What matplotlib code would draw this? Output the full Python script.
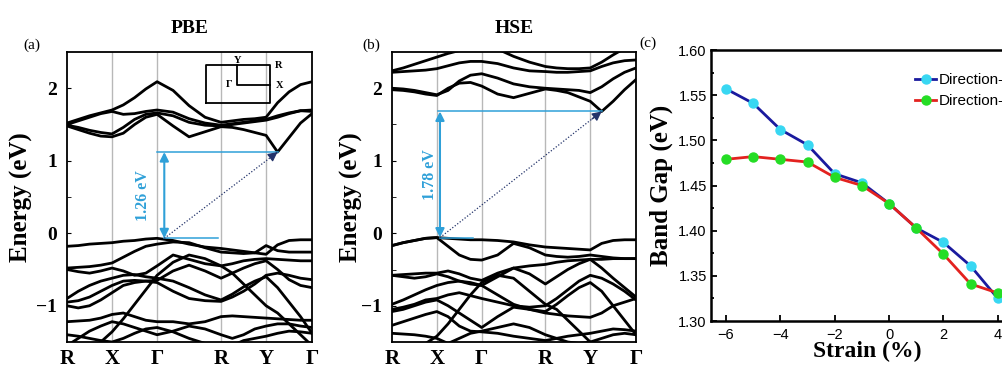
import matplotlib
matplotlib.use('Agg')
import matplotlib.pyplot as plt
import numpy as np

plt.rcParams['font.family'] = ['Liberation Serif', 'DejaVu Serif']
plt.rcParams['axes.unicode_minus'] = True

# k-path (R-X-Γ-R-Y-Γ), 4 steps per segment
k_nodes = [0, 1, 2, 3.42, 4.42, 5.44]
k_labels = ['R', 'X', 'Γ', 'R', 'Y', 'Γ']
k_steps = [0, 0.25, 0.5, 0.75]

# PBE bands (eV) at the 21 k samples
pbe_cond = [
    [1.52, 1.57, 1.62, 1.66, 1.70, 1.77, 1.87, 1.99, 2.09, 1.97, 1.76, 1.60, 1.53, 1.55, 1.57, 1.58, 1.60, 1.80, 1.95, 2.05, 2.09],
    [1.50, 1.55, 1.60, 1.65, 1.68, 1.64, 1.65, 1.68, 1.70, 1.67, 1.58, 1.52, 1.49, 1.51, 1.53, 1.55, 1.57, 1.62, 1.66, 1.69, 1.68],
    [1.49, 1.46, 1.42, 1.39, 1.37, 1.46, 1.57, 1.64, 1.66, 1.62, 1.53, 1.49, 1.48, 1.50, 1.52, 1.54, 1.56, 1.60, 1.65, 1.69, 1.70],
    [1.48, 1.43, 1.38, 1.34, 1.33, 1.38, 1.50, 1.60, 1.64, 1.48, 1.33, 1.40, 1.47, 1.46, 1.43, 1.39, 1.35, 1.12, 1.32, 1.52, 1.65],
]
pbe_val = [
    [-0.18, -0.17, -0.15, -0.14, -0.13, -0.11, -0.10, -0.08, -0.07, -0.10, -0.15, -0.19, -0.21, -0.23, -0.25, -0.27, -0.29, -0.16, -0.10, -0.09, -0.09],
    [-0.48, -0.47, -0.46, -0.44, -0.41, -0.33, -0.25, -0.18, -0.15, -0.12, -0.13, -0.20, -0.26, -0.27, -0.28, -0.27, -0.17, -0.24, -0.26, -0.26, -0.26],
    [-0.50, -0.53, -0.55, -0.52, -0.48, -0.52, -0.58, -0.55, -0.45, -0.30, -0.36, -0.42, -0.45, -0.42, -0.38, -0.36, -0.35, -0.36, -0.37, -0.38, -0.38],
    [-0.90, -0.80, -0.72, -0.66, -0.62, -0.58, -0.57, -0.60, -0.62, -0.66, -0.75, -0.85, -0.92, -0.84, -0.74, -0.66, -0.60, -0.75, -0.95, -1.15, -1.38],
    [-0.95, -0.93, -0.88, -0.80, -0.72, -0.66, -0.65, -0.66, -0.68, -0.80, -0.90, -0.93, -0.94, -0.88, -0.80, -0.70, -0.58, -0.55, -0.58, -0.62, -0.64],
    [-1.00, -1.03, -1.00, -0.92, -0.82, -0.72, -0.68, -0.66, -0.65, -0.52, -0.44, -0.52, -0.62, -0.55, -0.48, -0.42, -0.38, -0.50, -0.64, -0.72, -0.75],
    [-1.22, -1.21, -1.20, -1.17, -1.12, -1.10, -1.15, -1.20, -1.22, -1.22, -1.25, -1.22, -1.15, -1.14, -1.15, -1.16, -1.17, -1.18, -1.19, -1.20, -1.20],
    [-1.55, -1.45, -1.35, -1.28, -1.22, -1.25, -1.30, -1.35, -1.40, -1.35, -1.28, -1.32, -1.40, -1.45, -1.40, -1.32, -1.28, -1.25, -1.25, -1.28, -1.30],
    [-1.70, -1.70, -1.62, -1.50, -1.36, -1.18, -0.98, -0.78, -0.58, -0.40, -0.30, -0.35, -0.45, -0.55, -0.70, -0.85, -1.00, -1.10, -1.25, -1.40, -1.55],
    [-1.40, -1.42, -1.45, -1.48, -1.50, -1.45, -1.38, -1.32, -1.30, -1.36, -1.45, -1.52, -1.60, -1.55, -1.48, -1.45, -1.42, -1.38, -1.35, -1.36, -1.38],
]

# HSE bands (eV)
hse_cond = [
    [2.22, 2.23, 2.24, 2.25, 2.27, 2.31, 2.35, 2.37, 2.37, 2.34, 2.28, 2.24, 2.23, 2.22, 2.22, 2.23, 2.24, 2.30, 2.35, 2.38, 2.39],
    [2.24, 2.28, 2.33, 2.38, 2.43, 2.48, 2.52, 2.56, 2.60, 2.54, 2.44, 2.36, 2.30, 2.28, 2.27, 2.27, 2.28, 2.36, 2.46, 2.55, 2.62],
    [2.00, 1.99, 1.97, 1.94, 1.91, 1.97, 2.10, 2.18, 2.20, 2.14, 2.06, 2.02, 2.00, 1.99, 1.98, 1.97, 1.94, 2.02, 2.13, 2.22, 2.28],
    [1.98, 1.97, 1.95, 1.92, 1.90, 2.00, 2.07, 2.08, 2.03, 1.92, 1.87, 1.93, 1.99, 1.97, 1.94, 1.88, 1.82, 1.68, 1.82, 1.98, 2.12],
]
hse_val = [
    [-0.17, -0.13, -0.10, -0.07, -0.06, -0.07, -0.08, -0.09, -0.09, -0.10, -0.12, -0.16, -0.19, -0.20, -0.21, -0.22, -0.23, -0.14, -0.10, -0.09, -0.09],
    [-0.17, -0.13, -0.10, -0.07, -0.06, -0.18, -0.30, -0.36, -0.37, -0.30, -0.14, -0.20, -0.30, -0.32, -0.33, -0.32, -0.30, -0.32, -0.34, -0.35, -0.35],
    [-0.58, -0.57, -0.56, -0.55, -0.55, -0.52, -0.56, -0.62, -0.65, -0.55, -0.48, -0.45, -0.43, -0.40, -0.38, -0.37, -0.36, -0.36, -0.35, -0.35, -0.35],
    [-0.58, -0.60, -0.62, -0.60, -0.56, -0.60, -0.66, -0.70, -0.72, -0.60, -0.48, -0.56, -0.70, -0.60, -0.50, -0.42, -0.36, -0.48, -0.62, -0.75, -0.88],
    [-0.98, -0.92, -0.85, -0.78, -0.72, -0.68, -0.66, -0.68, -0.72, -0.85, -0.98, -1.05, -1.08, -0.98, -0.86, -0.75, -0.68, -0.80, -1.00, -1.20, -1.40],
    [-1.05, -1.02, -0.98, -0.92, -0.90, -0.85, -0.82, -0.86, -0.90, -0.95, -1.00, -1.02, -1.00, -0.90, -0.78, -0.66, -0.58, -0.62, -0.70, -0.80, -0.92],
    [-1.08, -1.05, -1.00, -0.95, -0.92, -1.00, -1.10, -1.20, -1.30, -1.15, -1.02, -1.05, -1.10, -1.12, -1.14, -1.15, -1.16, -1.10, -1.00, -0.95, -0.90],
    [-1.27, -1.22, -1.17, -1.12, -1.08, -1.15, -1.28, -1.35, -1.36, -1.38, -1.42, -1.45, -1.48, -1.45, -1.42, -1.40, -1.38, -1.35, -1.32, -1.33, -1.35],
    [-1.38, -1.39, -1.40, -1.42, -1.45, -1.52, -1.45, -1.38, -1.35, -1.30, -1.25, -1.30, -1.40, -1.45, -1.50, -1.52, -1.50, -1.45, -1.40, -1.38, -1.40],
    [-1.70, -1.65, -1.60, -1.52, -1.42, -1.25, -1.05, -0.85, -0.68, -0.58, -0.62, -0.80, -0.98, -1.05, -1.20, -1.35, -1.50, -1.60, -1.65, -1.70, -1.75],
]

# gap annotations: k of arrow, E of VBM, k of CBM, E of CBM, label,
# k where the CBM guide starts, k where the VBM guide ends, k of the label
pbe_gap = (2.16, -0.07, 4.675, 1.12, '1.26 eV', 2.0, 3.36, 1.69)
hse_gap = (1.07, -0.06, 4.675, 1.68, '1.78 eV', 1.03, 1.80, 0.84)

# strain data
strain = [-6, -5, -4, -3, -2, -1, 0, 1, 2, 3, 4]
gap_a = [1.557, 1.541, 1.512, 1.495, 1.463, 1.453, 1.430, 1.403, 1.387, 1.361, 1.325]
gap_b = [1.479, 1.482, 1.479, 1.476, 1.459, 1.450, 1.430, 1.403, 1.374, 1.341, 1.331]

kpts = []
for i in range(len(k_nodes) - 1):
    for s in k_steps:
        kpts.append(k_nodes[i] + s * (k_nodes[i + 1] - k_nodes[i]))
kpts.append(k_nodes[-1])
kpts = np.array(kpts)

gap_color = '#2fa0d8'
dot_color = '#23336a'

fig = plt.figure(figsize=(10.03, 3.73), dpi=100)


def band_panel(rect, cond, val, gap, title, tag, tag_x, label_x):
    ax = fig.add_axes(rect)
    for kn in k_nodes[1:-1]:
        ax.axvline(kn, color='#b8b8b8', lw=1.0, zorder=1)
    for b in cond + val:
        ax.plot(kpts, b, color='black', lw=2.0, solid_joinstyle='round', zorder=3)
    ax.set_xlim(k_nodes[0], k_nodes[-1])
    ax.set_ylim(-1.5, 2.5)
    ax.set_xticks(k_nodes)
    ax.set_xticklabels(k_labels, fontsize=15, fontweight='bold')
    ax.set_yticks([-1, 0, 1, 2])
    ax.set_yticks([-0.5, 0.5, 1.5], minor=True)
    ax.set_yticklabels(['\u22121', '0', '1', '2'], fontsize=14, fontweight='bold')
    ax.tick_params(axis='x', length=0, pad=5)
    ax.tick_params(axis='y', which='both', direction='in', length=3, pad=7)
    ax.set_ylabel('Energy (eV)', fontsize=18, fontweight='bold')
    ax.yaxis.set_label_coords(label_x, 0.5)
    ax.set_title(title, fontsize=14, fontweight='bold', pad=14)
    ax.text(tag_x, 1.0, tag, transform=ax.transAxes, fontsize=11, ha='center', va='bottom')
    for sp in ax.spines.values():
        sp.set_linewidth(1.3)

    kv, ev, kc, ec, txt, k_top, k_bot, k_txt = gap
    # horizontal guide lines at VBM and CBM
    ax.plot([k_top, kc], [ec, ec], color=gap_color, lw=1.1, zorder=4)
    ax.plot([kv, k_bot], [ev, ev], color=gap_color, lw=1.1, zorder=4)
    ax.annotate('', xy=(kv, ec), xytext=(kv, ev),
                arrowprops=dict(arrowstyle='<|-|>', color=gap_color, lw=1.5,
                                mutation_scale=13, shrinkA=0, shrinkB=0), zorder=5)
    ax.plot([kv, kc], [ev, ec], color=dot_color, lw=0.9, ls=(0, (1, 1.5)), zorder=4)
    ax.annotate('', xy=(kc, ec), xytext=(kc - 0.06 * (kc - kv), ec - 0.06 * (ec - ev)),
                arrowprops=dict(arrowstyle='-|>', color=dot_color, lw=0.9,
                                mutation_scale=14, shrinkA=0, shrinkB=0), zorder=5)
    ax.text(k_txt, (ev + ec) / 2, txt, rotation=90, color=gap_color, fontsize=11.5,
            fontweight='bold', ha='center', va='center')
    return ax


ax1 = band_panel([0.0668, 0.0831, 0.2443, 0.7775], pbe_cond, pbe_val, pbe_gap,
                 'PBE', '(a)', -0.145, -0.139)
ax2 = band_panel([0.3908, 0.0831, 0.2433, 0.7775], hse_cond, hse_val, hse_gap,
                 'HSE', '(b)', -0.085, -0.119)

# Brillouin zone inset in (a)
ax1.plot([0.567, 0.829, 0.829, 0.567, 0.567], [0.824, 0.824, 0.956, 0.956, 0.824],
         color='black', lw=1.3, transform=ax1.transAxes, zorder=6)
ax1.plot([0.694, 0.694, 0.829], [0.956, 0.885, 0.885], color='black', lw=1.3,
         transform=ax1.transAxes, zorder=6)
for lab, xx, yy in [('Y', 0.698, 0.972), ('R', 0.865, 0.955), ('Γ', 0.661, 0.888), ('X', 0.869, 0.883)]:
    ax1.text(xx, yy, lab, transform=ax1.transAxes, fontsize=7.5, fontweight='bold',
             ha='center', va='center', zorder=7)

# (c) strain panel
ax3 = fig.add_axes([0.7089, 0.1394, 0.355, 0.7265])
ax3.plot(strain, gap_a, color='#1a1a9e', lw=2.0, marker='o', ms=6.5,
         mfc='#38d7f2', mec='#38d7f2', label='Direction-a', zorder=3)
ax3.plot(strain, gap_b, color='#e3221f', lw=2.0, marker='o', ms=6.5,
         mfc='#25dd25', mec='#25dd25', label='Direction-b', zorder=3)
ax3.set_xlim(-6.55, 6.55)
ax3.set_ylim(1.30, 1.60)
ax3.set_xticks([-6, -4, -2, 0, 2, 4, 6])
ax3.set_yticks([1.30, 1.35, 1.40, 1.45, 1.50, 1.55, 1.60])
ax3.set_yticks(np.arange(1.325, 1.6, 0.05), minor=True)
ax3.set_yticklabels(['1.30', '1.35', '1.40', '1.45', '1.50', '1.55', '1.60'])
ax3.set_xticklabels(['\u22126', '\u22124', '\u22122', '0', '2', '4', '6'])
for lab in ax3.get_xticklabels() + ax3.get_yticklabels():
    lab.set_fontfamily('Liberation Sans')
    lab.set_fontsize(10.5)
ax3.tick_params(which='both', direction='in', width=1.3)
ax3.tick_params(which='major', length=4, pad=3)
ax3.tick_params(axis='x', pad=5)
ax3.tick_params(which='minor', length=2.5)
for sp in ax3.spines.values():
    sp.set_linewidth(1.8)
ax3.set_ylabel('Band Gap (eV)', fontsize=18, fontweight='bold')
ax3.yaxis.set_label_coords(-0.107, 0.5)
ax3.set_xlabel('Strain (%)', fontsize=17, fontweight='bold')
ax3.xaxis.set_label_coords(0.438, -0.075)
ax3.text(-0.2, 1.0, '(c)', transform=ax3.transAxes, fontsize=11, ha='left', va='bottom')
ax3.legend(loc='upper left', bbox_to_anchor=(909 / 1003, 1 - 67 / 373),
           bbox_transform=fig.transFigure, frameon=False, handlelength=1.4,
           handletextpad=0.15, labelspacing=0.45, borderaxespad=0,
           prop={'family': 'Liberation Sans', 'size': 11})

fig.savefig('out.png', dpi=100)
